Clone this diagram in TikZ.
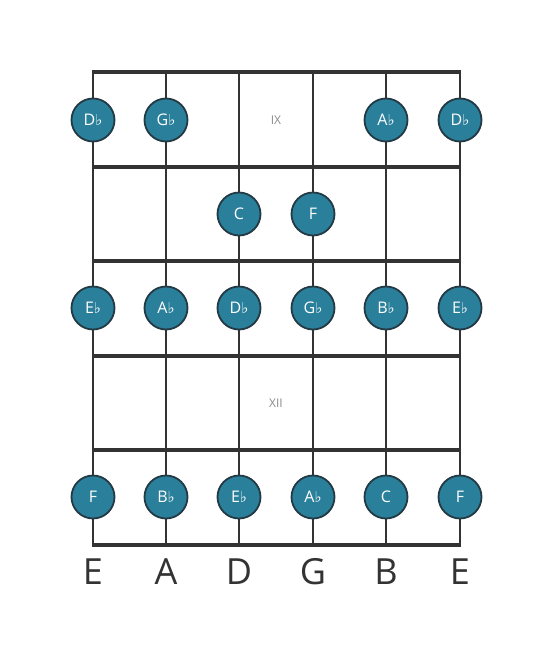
\documentclass[tikz,border=0pt]{standalone}
\usepackage{fontspec}
\setmainfont{Open Sans}
\newfontfamily\flatfont{DejaVu Sans}
\newcommand{\fl}{{\flatfont\fontsize{15}{15}\selectfont\itshape ♭}}
\definecolor{fret_gray}{HTML}{333333}
\definecolor{note_teal}{HTML}{2A7F9B}
\definecolor{note_edge}{HTML}{233A45}
\definecolor{label_gray}{HTML}{333333}
\definecolor{mark_gray}{HTML}{8A8A8A}
\tikzset{
  string_line/.style = {line width=2.4pt, draw=fret_gray},
  fret_line/.style = {line width=4.6pt, draw=fret_gray},
  note/.style = {circle, minimum size=43pt, inner sep=0, fill=note_teal, draw=note_edge,
                 line width=1.8pt, text=white, font=\fontsize{16}{16}\selectfont},
  open_string/.style = {font=\fontsize{36}{36}\selectfont, text=label_gray},
  fret_mark/.style = {font=\fontsize{12}{12}\selectfont, text=mark_gray}
}
\begin{document}
\begin{tikzpicture}[x=1pt, y=-1pt]
        \useasboundingbox (0,0) rectangle (553,656);

        % String ends and fret ends
        \foreach \s/\x in {e_low/93, a/166, d/239, g/313, b/386, e_high/460}{
            \coordinate (\s_top) at (\x,72);
            \coordinate (\s_bot) at (\x,545);
        }
        \foreach \f/\y in {f8/72, f9/167, f10/261, f11/356, f12/450, f13/545}{
            \coordinate (\f_l) at (91.8,\y);
            \coordinate (\f_r) at (461.2,\y);
        }

        % Strings
        \foreach \s in {e_low, a, d, g, b, e_high}{
            \draw[string_line] (\s_top)--(\s_bot);
        }

        % Frets
        \foreach \f in {f8, f9, f10, f11, f12, f13}{
            \draw[fret_line] (\f_l)--(\f_r);
        }

        % Fret numbers
        \node[fret_mark] (mark_ix) at (276,120) {IX};
        \node[fret_mark] (mark_xii) at (276,403) {XII};

        % Notes, fret IX
        \node[note] (n9_e_low) at (e_low_top |- 0,120) {D\fl};
        \node[note] (n9_a) at (a_top |- 0,120) {G\fl};
        \node[note] (n9_b) at (b_top |- 0,120) {A\fl};
        \node[note] (n9_e_high) at (e_high_top |- 0,120) {D\fl};

        % Notes, fret X
        \node[note] (n10_d) at (d_top |- 0,214) {C};
        \node[note] (n10_g) at (g_top |- 0,214) {F};

        % Notes, fret XI
        \node[note] (n11_e_low) at (e_low_top |- 0,308) {E\fl};
        \node[note] (n11_a) at (a_top |- 0,308) {A\fl};
        \node[note] (n11_d) at (d_top |- 0,308) {D\fl};
        \node[note] (n11_g) at (g_top |- 0,308) {G\fl};
        \node[note] (n11_b) at (b_top |- 0,308) {B\fl};
        \node[note] (n11_e_high) at (e_high_top |- 0,308) {E\fl};

        % Notes, fret XIII
        \node[note] (n13_e_low) at (e_low_top |- 0,497) {F};
        \node[note] (n13_a) at (a_top |- 0,497) {B\fl};
        \node[note] (n13_d) at (d_top |- 0,497) {E\fl};
        \node[note] (n13_g) at (g_top |- 0,497) {A\fl};
        \node[note] (n13_b) at (b_top |- 0,497) {C};
        \node[note] (n13_e_high) at (e_high_top |- 0,497) {F};

        % Open strings
        \foreach \s/\t in {e_low/E, a/A, d/D, g/G, b/B, e_high/E}{
            \node[open_string] (open_\s) at (\s_bot |- 0,572) {\t};
        }
\end{tikzpicture}
\end{document}
